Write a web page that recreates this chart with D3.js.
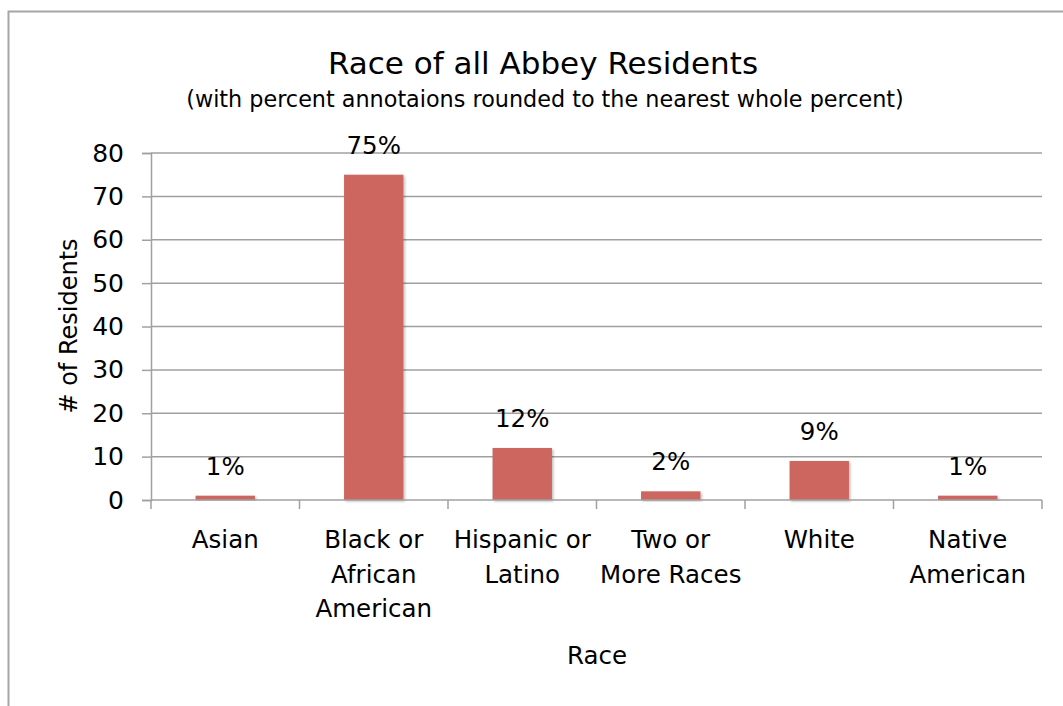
<!DOCTYPE html>
<html>
<head>
<meta charset="utf-8">
<script src="https://cdn.jsdelivr.net/npm/d3@7"></script>
<style>
  html, body { margin: 0; padding: 0; background: #fff; }
  svg { display: block; font-family: "DejaVu Sans", sans-serif; }
  svg text { font-family: "DejaVu Sans", sans-serif; }
</style>
</head>
<body>
<svg id="chart" width="1063" height="706"></svg>
<script>
// Residents by race
const categories = [
  ["Asian"],
  ["Black or", "African", "American"],
  ["Hispanic or", "Latino"],
  ["Two or", "More Races"],
  ["White"],
  ["Native", "American"]
];
const residents = [1, 75, 12, 2, 9, 1];
const percentLabels = ["1%", "75%", "12%", "2%", "9%", "1%"];
const yTicks = [0, 10, 20, 30, 40, 50, 60, 70, 80];

const svg = d3.select("#chart");
const gridColor = "#a0a0a0";
const barColor = "#cd665f";
const labelSize = 24.5;

const margin = { left: 151, right: 1042, top: 153, bottom: 500 };

// outer chart frame (runs past the right and bottom edges)
svg.append("rect")
  .attr("x", 8.5).attr("y", 11.5)
  .attr("width", 1100).attr("height", 800)
  .attr("fill", "none").attr("stroke", "#a6a6a6").attr("stroke-width", 2);

const x = d3.scaleBand()
  .domain(d3.range(categories.length))
  .range([margin.left, margin.right])
  .paddingInner(0.6).paddingOuter(0.3);

const xBand = d3.scaleBand()
  .domain(d3.range(categories.length))
  .range([margin.left, margin.right]);

const y = d3.scaleLinear().domain([0, 80]).range([margin.bottom, margin.top]);

// horizontal gridlines
svg.append("g").selectAll("line")
  .data(yTicks.filter(d => d > 0))
  .join("line")
  .attr("x1", margin.left).attr("x2", margin.right)
  .attr("y1", d => y(d)).attr("y2", d => y(d))
  .attr("stroke", gridColor).attr("stroke-width", 1.5);

// y axis
const yAxis = svg.append("g")
  .attr("transform", `translate(${margin.left},0)`)
  .call(d3.axisLeft(y).tickValues(yTicks).tickSize(9).tickPadding(18));
yAxis.attr("font-family", null).attr("font-size", null);
yAxis.select(".domain").attr("stroke", gridColor).attr("stroke-width", 1.5);
yAxis.selectAll(".tick line").attr("stroke", gridColor).attr("stroke-width", 1.5);
yAxis.selectAll(".tick text")
  .attr("font-size", 25).attr("fill", "#000");

// bar shadow
const defs = svg.append("defs");
const f = defs.append("filter").attr("id", "shadow")
  .attr("x", "-10%").attr("y", "-10%").attr("width", "130%").attr("height", "130%");
f.append("feDropShadow").attr("dx", 1.5).attr("dy", 1.5).attr("stdDeviation", 1.2)
  .attr("flood-color", "#000").attr("flood-opacity", 0.25);

// bars
svg.append("g").selectAll("rect")
  .data(residents)
  .join("rect")
  .attr("x", (d, i) => x(i))
  .attr("width", x.bandwidth())
  .attr("y", d => y(d))
  .attr("height", d => y(0) - y(d))
  .attr("fill", barColor)
  .attr("filter", "url(#shadow)");

// x axis baseline and ticks at category boundaries
const xAxisG = svg.append("g");
xAxisG.append("line")
  .attr("x1", margin.left).attr("x2", margin.right)
  .attr("y1", y(0)).attr("y2", y(0))
  .attr("stroke", gridColor).attr("stroke-width", 1.5);
xAxisG.selectAll("line.tick")
  .data(d3.range(categories.length + 1))
  .join("line")
  .attr("class", "tick")
  .attr("x1", i => i < categories.length ? xBand(i) : margin.right)
  .attr("x2", i => i < categories.length ? xBand(i) : margin.right)
  .attr("y1", y(0)).attr("y2", y(0) + 9)
  .attr("stroke", gridColor).attr("stroke-width", 1.5);

// category labels
const catText = svg.append("g").selectAll("text")
  .data(categories)
  .join("text")
  .attr("text-anchor", "middle")
  .attr("font-size", labelSize)
  .attr("fill", "#000")
  .attr("x", (d, i) => xBand(i) + xBand.bandwidth() / 2)
  .attr("y", 548);
catText.selectAll("tspan")
  .data(d => d)
  .join("tspan")
  .attr("x", function () { return d3.select(this.parentNode).attr("x"); })
  .attr("dy", (d, j) => j === 0 ? 0 : 34.5)
  .text(d => d);

// percent annotations
svg.append("g").selectAll("text")
  .data(residents)
  .join("text")
  .attr("text-anchor", "middle")
  .attr("font-size", labelSize)
  .attr("fill", "#000")
  .attr("x", (d, i) => x(i) + x.bandwidth() / 2)
  .attr("y", d => y(d) - 21)
  .text((d, i) => percentLabels[i]);

// titles
svg.append("text")
  .attr("x", 543).attr("y", 74)
  .attr("text-anchor", "middle")
  .attr("font-size", 31)
  .attr("fill", "#000")
  .text("Race of all Abbey Residents");
svg.append("text")
  .attr("x", 545).attr("y", 107)
  .attr("text-anchor", "middle")
  .attr("font-size", 22.3)
  .attr("fill", "#000")
  .text("(with percent annotaions rounded to the nearest whole percent)");

// axis titles
svg.append("text")
  .attr("transform", "translate(77,326) rotate(-90)")
  .attr("text-anchor", "middle")
  .attr("font-size", 24)
  .attr("fill", "#000")
  .text("# of Residents");
svg.append("text")
  .attr("x", 597).attr("y", 664)
  .attr("text-anchor", "middle")
  .attr("font-size", labelSize)
  .attr("fill", "#000")
  .text("Race");
</script>
</body>
</html>
